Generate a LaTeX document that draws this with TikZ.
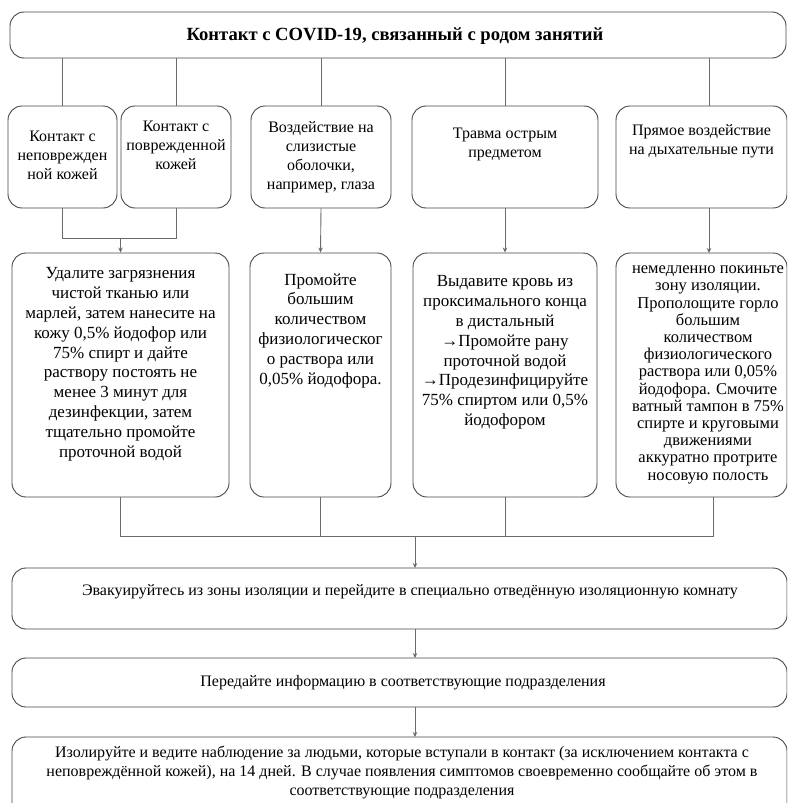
\documentclass[tikz,border=0pt]{standalone}
\usepackage{fontspec}
\setmainfont{Liberation Serif}
\usetikzlibrary{arrows.meta}
\tikzset{
  box/.style={draw=black!72, line width=0.9pt, rounded corners=14pt, inner sep=0pt},
  conn/.style={draw=black!58, line width=0.9pt},
  arr/.style={conn, -{Stealth[length=5pt,width=4.5pt]}},
  txt/.style={align=center, anchor=base, inner sep=0pt},
  rowtwo/.style={txt, font=\fontsize{16}{19}\selectfont},
  rowthree/.style={txt, font=\fontsize{17}{19.8}\selectfont},
  rowd/.style={txt, font=\fontsize{16.5}{17.2}\selectfont},
  bottomtxt/.style={txt, font=\fontsize{16}{19}\selectfont},
}
\begin{document}
\begin{tikzpicture}[x=1pt,y=-1pt]
\useasboundingbox (0,0) rectangle (787,803);
\clip (0,0) rectangle (787,803);
\fill[white] (0,0) rectangle (787,803);
% top
\node[box, minimum width=776pt, minimum height=46pt] (top) at (398,35) {};
\node[txt, font=\fontsize{18.6}{20}\bfseries] (title) at (395,40.5) {Контакт с COVID-19, связанный с родом занятий};
% row 2 boxes
\node[box, minimum width=109pt, minimum height=102pt] (b1) at (62.5,157) {};
\node[box, minimum width=110pt, minimum height=102pt] (b2) at (176,157) {};
\node[box, minimum width=140pt, minimum height=102pt] (b3) at (321,157) {};
\node[box, minimum width=186pt, minimum height=102pt] (b4) at (505,157) {};
\node[box, minimum width=171pt, minimum height=102pt] (b5) at (701.5,157) {};
\node[rowtwo] (t1) at (62.5,179) {Контакт с\\неповрежден\\ной кожей};
\node[rowtwo] (t2) at (176,169.5) {Контакт с\\поврежденной\\кожей};
\node[rowtwo] (t3) at (321,189) {Воздействие на\\слизистые\\оболочки,\\например, глаза};
\node[rowtwo] (t4) at (505,157) {Травма острым\\предметом};
\node[rowtwo] (t5) at (701.5,154) {Прямое воздействие\\на дыхательные пути};
% row 3 boxes
\node[box, minimum width=217pt, minimum height=244pt] (ba) at (120.5,375) {};
\node[box, minimum width=141pt, minimum height=244pt] (bb) at (320.5,375) {};
\node[box, minimum width=184pt, minimum height=244pt] (bc) at (505,375) {};
\node[box, minimum width=171pt, minimum height=244pt] (bd) at (701.5,375) {};
\node[rowthree] (ta) at (120.5,457) {Удалите загрязнения\\чистой тканью или\\марлей, затем нанесите на\\кожу 0,5\% йодофор или\\75\% спирт и дайте\\раствору постоять не\\менее 3 минут для\\дезинфекции, затем\\тщательно промойте\\проточной водой};
\node[rowthree] (tb) at (320.5,384) {Промойте\\большим\\количеством\\физиологическог\\о раствора или\\0,05\% йодофора.};
\node[rowthree] (tc) at (505,425.5) {Выдавите кровь из\\проксимального конца\\в дистальный\\→Промойте рану\\проточной водой\\→Продезинфицируйте\\75\% спиртом или 0,5\%\\йодофором};
\node[rowd] (td) at (708,480) {немедленно покиньте\\зону изоляции.\\Прополощите горло\\большим\\количеством\\физиологического\\раствора или 0,05\%\\йодофора. Смочите\\ватный тампон в 75\%\\спирте и круговыми\\движениями\\аккуратно протрите\\носовую полость};
% bottom boxes
\node[box, minimum width=775pt, minimum height=61pt] (be) at (399.5,598.5) {};
\node[box, minimum width=775pt, minimum height=49pt] (bf) at (399.5,682.5) {};
\node[box, minimum width=775pt, minimum height=93pt] (bg) at (399.5,783.5) {};
\node[bottomtxt] (te) at (410,595) {Эвакуируйтесь из зоны изоляции и перейдите в специально отведённую изоляционную комнату};
\node[bottomtxt] (tf) at (403,686) {Передайте информацию в соответствующие подразделения};
\node[bottomtxt] (tg) at (402,795) {Изолируйте и ведите наблюдение за людьми, которые вступали в контакт (за исключением контакта с\\неповреждённой кожей), на 14 дней. В случае появления симптомов своевременно сообщайте об этом в\\соответствующие подразделения};
% connectors top -> row 2
\coordinate (c5top) at (709,58);
\coordinate (c5bot) at (709,106);
\draw[conn] (top.south -| b1.north) -- (b1.north);
\draw[conn] (top.south -| b2.north) -- (b2.north);
\draw[conn] (top.south -| b3.north) -- (b3.north);
\draw[conn] (top.south -| b4.north) -- (b4.north);
\draw[conn] (c5top) -- (c5bot);
% row 2 -> row 3
\coordinate (j1) at (62.5,238);
\coordinate (j2) at (176,238);
\coordinate (ja) at (120.5,238);
\draw[conn] (b1.south) -- (j1) -- (j2) -- (b2.south);
\draw[arr] (ja) -- (ba.north);
\draw[arr] (b3.south) -- (bb.north);
\draw[arr] (b4.south) -- (bc.north);
\coordinate (d5a) at (709,208);
\coordinate (d5b) at (709,253);
\draw[arr] (d5a) -- (d5b);
% row 3 -> E
\coordinate (ka) at (120.5,536);
\coordinate (kb) at (320.5,536);
\coordinate (kc) at (505,536);
\coordinate (kd) at (713,536);
\coordinate (kdt) at (713,497);
\coordinate (ke) at (415,536);
\coordinate (ket) at (415,568);
\draw[conn] (ba.south) -- (ka) -- (kd) -- (kdt);
\draw[conn] (bb.south) -- (kb);
\draw[conn] (bc.south) -- (kc);
\draw[arr] (ke) -- (ket);
\coordinate (ef1) at (415,629);
\coordinate (ef2) at (415,658);
\draw[arr] (ef1) -- (ef2);
\coordinate (fg1) at (415,707);
\coordinate (fg2) at (415,737);
\draw[arr] (fg1) -- (fg2);
\end{tikzpicture}
\end{document}
